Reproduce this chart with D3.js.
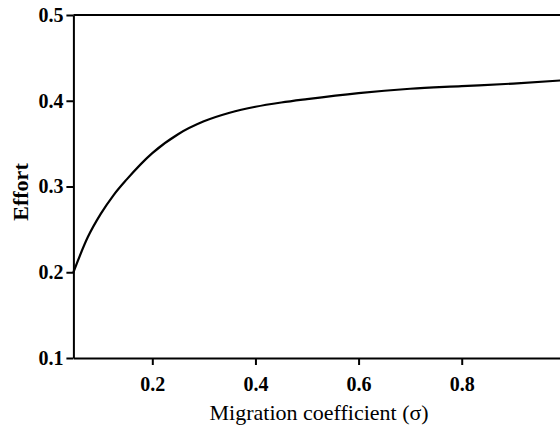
<!DOCTYPE html>
<html>
<head>
<meta charset="utf-8">
<script src="https://cdn.jsdelivr.net/npm/d3@7"></script>
<style>
  html, body { margin: 0; padding: 0; background: #fff; }
  svg { display: block; }
  .tick text { font-family: "Liberation Serif", "Times New Roman", serif; font-weight: bold; }
</style>
</head>
<body>
<svg id="chart" width="560" height="429"></svg>
<script>
// Migration coefficient (sigma) and the resulting effort
const sigma  = [0.047, 0.075, 0.1, 0.125, 0.15, 0.2, 0.25, 0.3, 0.35, 0.4, 0.45, 0.5, 0.6, 0.7, 0.8, 0.9, 1.0];
const effort = [0.200, 0.241, 0.268, 0.290, 0.308, 0.339, 0.361, 0.376, 0.386, 0.393, 0.398, 0.402, 0.409, 0.414, 0.417, 0.420, 0.424];

const xTicks = [0.2, 0.4, 0.6, 0.8];
const yTicks = [0.1, 0.2, 0.3, 0.4, 0.5];

const svg = d3.select("#chart");
const plotLeft = 73.4, plotTop = 15, plotBottom = 358;

const x = d3.scaleLinear().domain([0.047, 1.0]).range([plotLeft, plotLeft + 0.953 * 515.7]);
const y = d3.scaleLinear().domain([0.1, 0.5]).range([plotBottom, plotTop]);

// top frame line
svg.append("line")
  .attr("x1", plotLeft).attr("x2", 560)
  .attr("y1", y(0.5)).attr("y2", y(0.5))
  .attr("stroke", "#000").attr("stroke-width", 2);

const xAxis = svg.append("g")
  .attr("transform", `translate(0,${plotBottom})`)
  .call(d3.axisBottom(x).tickValues(xTicks).tickFormat(d3.format(".1f")).tickSize(7).tickSizeOuter(0).tickPadding(12));

const yAxis = svg.append("g")
  .attr("transform", `translate(${plotLeft},0)`)
  .call(d3.axisLeft(y).tickValues(yTicks).tickFormat(d3.format(".1f")).tickSize(7).tickSizeOuter(0).tickPadding(3));

[xAxis, yAxis].forEach(g => {
  g.selectAll(".domain").attr("stroke", "#000").attr("stroke-width", 2);
  g.selectAll(".tick line").attr("stroke", "#000").attr("stroke-width", 2);
  g.selectAll(".tick text").attr("fill", "#000").style("font-size", "20px");
});

// effort curve
const line = d3.line()
  .x((d, i) => x(sigma[i]))
  .y(d => y(d))
  .curve(d3.curveMonotoneX);

svg.append("path")
  .datum(effort)
  .attr("d", line)
  .attr("fill", "none")
  .attr("stroke", "#000")
  .attr("stroke-width", 2.2);

// axis titles
svg.append("text")
  .attr("x", (x.range()[0] + x.range()[1]) / 2)
  .attr("y", 420)
  .attr("text-anchor", "middle")
  .style("font-family", "'Liberation Serif', 'Times New Roman', serif")
  .style("font-size", "22px")
  .text("Migration coefficient (σ)");

svg.append("text")
  .attr("transform", "translate(28,192) rotate(-90)")
  .attr("text-anchor", "middle")
  .style("font-family", "'Liberation Serif', 'Times New Roman', serif")
  .style("font-weight", "bold")
  .style("font-size", "22px")
  .text("Effort");
</script>
</body>
</html>
